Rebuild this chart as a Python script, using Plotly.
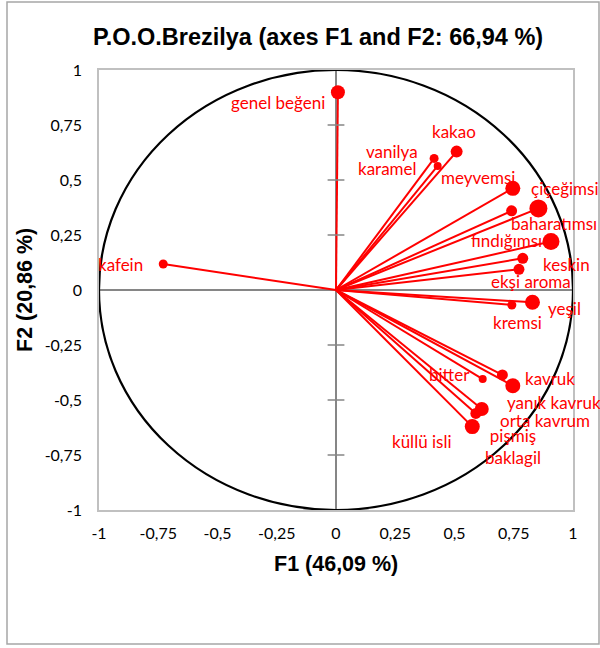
import plotly.graph_objects as go

# ---- data ----
labels = ["genel beğeni", "kafein", "vanilya", "karamel", "kakao", "meyvemsi",
          "çiçeğimsi", "baharatımsı", "fındığımsı", "keskin", "ekşi aroma",
          "yeşil", "kremsi", "bitter", "kavruk", "yanık kavruk", "orta kavrum",
          "pişmiş<br>baklagil", "küllü isli"]
f1 = [0.008, -0.729, 0.414, 0.429, 0.509, 0.746, 0.854, 0.907, 0.741, 0.788, 0.772,
      0.829, 0.742, 0.619, 0.702, 0.746, 0.615, 0.590, 0.575]
f2 = [0.899, 0.118, 0.598, 0.564, 0.629, 0.462, 0.371, 0.220, 0.360, 0.144, 0.094,
      -0.056, -0.068, -0.405, -0.386, -0.435, -0.541, -0.561, -0.621]
point_size = [14, 9, 9, 8, 12, 15, 18, 17, 11, 11, 11, 15, 9, 8, 11, 15, 14, 11, 15]
tick_vals = [-1, -0.75, -0.5, -0.25, 0, 0.25, 0.5, 0.75, 1]
tick_text = ["-1", "-0,75", "-0,5", "-0,25", "0", "0,25", "0,5", "0,75", "1"]

# label offsets in pixels (dx right, dy down) from each point
label_offset = [(-60, 10), (-43, 0), (-42, -7), (-50, 3), (-3, -20), (-35, -11),
                (27, -20), (3, -18), (-5, 30), (44, 6), (12, 12),
                (32, 6), (6, 18), (-33, -5), (48, 4), (41, 17), (63, 11),
                (37, 33), (-50, 15)]

RED = "#ff0000"
fig = go.Figure()

# vectors from origin
lx, ly = [], []
for x, y in zip(f1, f2):
    lx += [0, x, None]
    ly += [0, y, None]
fig.add_trace(go.Scatter(x=lx, y=ly, mode="lines", line=dict(color=RED, width=2),
                         hoverinfo="skip", showlegend=False))

# tick marks on the vertical zero axis
yt = [v for v in tick_vals if v != 0]
fig.add_trace(go.Scatter(x=[0] * len(yt), y=yt, mode="markers",
                         marker=dict(symbol="line-ew", size=12, opacity=1,
                                     line=dict(color="#868686", width=1.5)),
                         hoverinfo="skip", showlegend=False))

# points
fig.add_trace(go.Scatter(x=f1, y=f2, mode="markers",
                         marker=dict(color=RED, size=point_size, opacity=1, line=dict(width=0)),
                         text=labels, hoverinfo="text", showlegend=False))

# labels
for x, y, t, (dx, dy) in zip(f1, f2, labels, label_offset):
    fig.add_annotation(x=x, y=y, xref="x", yref="y", text=t, showarrow=False,
                       xshift=dx, yshift=-dy, xanchor="center", yanchor="middle",
                       font=dict(family="Lato", size=17, color=RED))

# unit circle
fig.add_shape(type="circle", xref="x", yref="y", x0=-1, y0=-1, x1=1, y1=1,
              line=dict(color="black", width=2.2))

# outer chart border
fig.add_shape(type="rect", xref="paper", yref="paper",
              x0=(7 - 99) / 474, x1=(599 - 99) / 474,
              y0=(510 - 644) / 440, y1=(510 - 2) / 440,
              line=dict(color="#a6a6a6", width=1.5))

# titles
fig.add_annotation(xref="paper", yref="paper", x=(318 - 99) / 474, y=(510 - 37) / 440,
                   xanchor="center", yanchor="middle",
                   text="<b>P.O.O.Brezilya (axes F1 and F2: 66,94 %)</b>", showarrow=False,
                   font=dict(family="Liberation Sans", size=23.5, color="black"))
fig.add_annotation(xref="paper", yref="paper", x=(336 - 99) / 474, y=(510 - 564) / 440,
                   xanchor="center", yanchor="middle",
                   text="<b>F1 (46,09 %)</b>", showarrow=False,
                   font=dict(family="Liberation Sans", size=21.5, color="black"))
fig.add_annotation(xref="paper", yref="paper", x=(25 - 99) / 474, y=0.5,
                   xanchor="center", yanchor="middle",
                   text="<b>F2 (20,86 %)</b>", showarrow=False, textangle=-90,
                   font=dict(family="Liberation Sans", size=21.5, color="black"))

axis_common = dict(range=[-1, 1], tickvals=tick_vals, ticktext=tick_text,
                   showgrid=False, zeroline=True, zerolinecolor="#868686", zerolinewidth=1.5,
                   showline=True, mirror=True, linecolor="#c0c0c0", linewidth=1.5,
                   ticks="", tickfont=dict(family="Lato", size=16, color="black"),
                   fixedrange=True)
fig.update_layout(
    width=600, height=648,
    margin=dict(l=99, r=27, t=70, b=138),
    paper_bgcolor="white", plot_bgcolor="white",
    xaxis=dict(**axis_common, ticklabelstandoff=8),
    yaxis=dict(**axis_common, ticklabelstandoff=12),
)
fig.write_html("out.html")
